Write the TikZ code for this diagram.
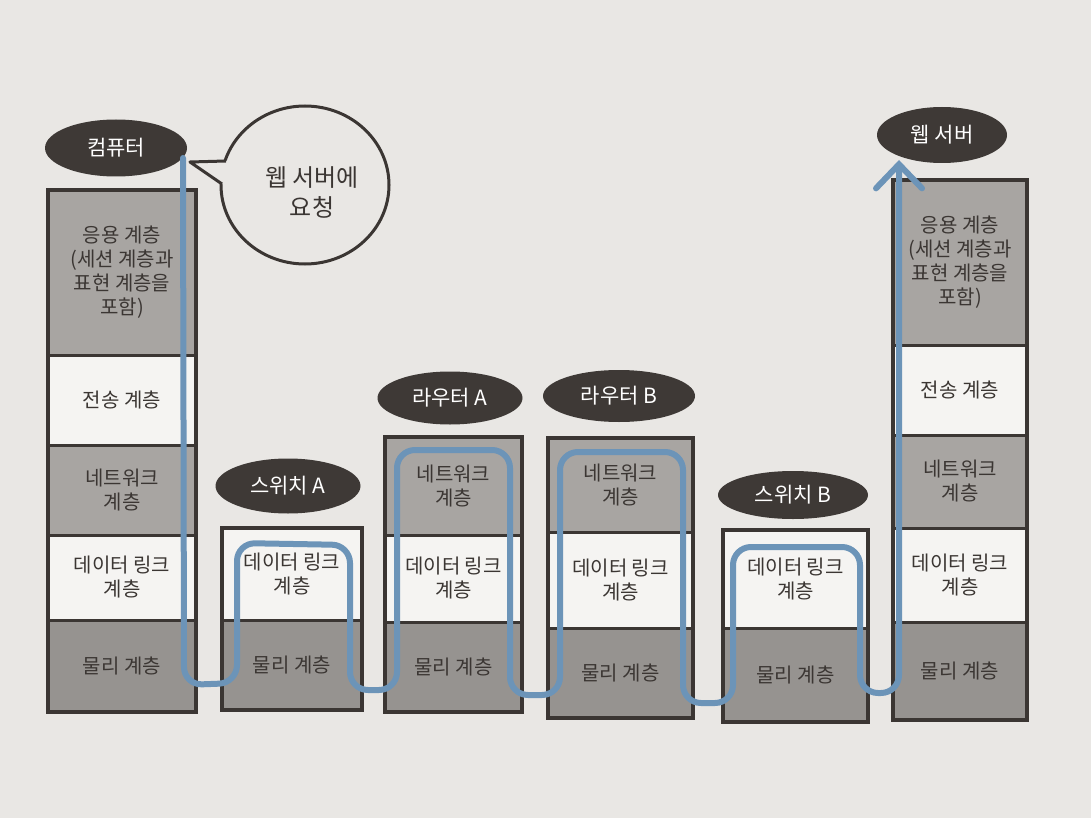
\documentclass[tikz,border=0pt]{standalone}
\usepackage{fontspec}
\setmainfont{Noto Sans CJK KR}
\usetikzlibrary{shapes.geometric, arrows.meta}
\definecolor{PaperBg}{RGB}{233,231,228}
\definecolor{InkDark}{RGB}{59,54,51}
\definecolor{LayerGray}{RGB}{168,165,162}
\definecolor{PhysGray}{RGB}{150,147,144}
\definecolor{LayerWhite}{RGB}{245,244,242}
\definecolor{PathBlue}{RGB}{108,148,184}
\definecolor{TagFill}{RGB}{62,57,54}

\tikzset{
  layer/.style={draw=InkDark, line width=3pt, text=InkDark, align=center,
    inner sep=0pt, outer sep=0pt, font=\fontsize{20}{24}\selectfont},
  gray layer/.style={layer, fill=LayerGray},
  phys layer/.style={layer, fill=PhysGray},
  white layer/.style={layer, fill=LayerWhite},
  tag/.style={ellipse, fill=TagFill, text=white, inner sep=0pt,
    font=\fontsize{21}{24}\selectfont},
  stack/.style={draw=InkDark, line width=4.5pt},
}

\begin{document}
\begin{tikzpicture}[x=1pt, y=-1pt]
\fill[PaperBg] (0,0) rectangle (1091,818);

% computer stack
\node[gray layer, minimum width=148pt, minimum height=165pt] (pcApp) at (122,272.5)
  {응용 계층\\(세션 계층과\\표현 계층을\\포함)};
\node[white layer, minimum width=148pt, minimum height=90pt] (pcTrans) at (122,400) {전송 계층};
\node[gray layer, minimum width=148pt, minimum height=90pt] (pcNet) at (122,490) {네트워크\\계층};
\node[white layer, minimum width=148pt, minimum height=85pt] (pcLink) at (122,577.5) {데이터 링크\\계층};
\node[phys layer, minimum width=148pt, minimum height=92pt] (pcPhys) at (122,666) {물리 계층};
\draw[stack] (pcApp.north west) rectangle (pcPhys.south east);

% switch A
\node[white layer, minimum width=140pt, minimum height=92pt] (swaLink) at (292,574) {데이터 링크\\계층};
\node[phys layer, minimum width=140pt, minimum height=90pt] (swaPhys) at (292,665) {물리 계층};
\draw[stack] (swaLink.north west) rectangle (swaPhys.south east);

% router A
\node[gray layer, minimum width=137pt, minimum height=98pt] (raNet) at (453.5,486) {네트워크\\계층};
\node[white layer, minimum width=137pt, minimum height=87pt] (raLink) at (453.5,578.5) {데이터 링크\\계층};
\node[phys layer, minimum width=137pt, minimum height=90pt] (raPhys) at (453.5,667) {물리 계층};
\draw[stack] (raNet.north west) rectangle (raPhys.south east);

% router B
\node[gray layer, minimum width=145pt, minimum height=94pt] (rbNet) at (620.5,485) {네트워크\\계층};
\node[white layer, minimum width=145pt, minimum height=96pt] (rbLink) at (620.5,580) {데이터 링크\\계층};
\node[phys layer, minimum width=145pt, minimum height=90pt] (rbPhys) at (620.5,673) {물리 계층};
\draw[stack] (rbNet.north west) rectangle (rbPhys.south east);

% switch B
\node[white layer, minimum width=145pt, minimum height=98pt] (swbLink) at (795.5,579) {데이터 링크\\계층};
\node[phys layer, minimum width=145pt, minimum height=94pt] (swbPhys) at (795.5,675) {물리 계층};
\draw[stack] (swbLink.north west) rectangle (swbPhys.south east);

% web server stack
\node[gray layer, minimum width=134pt, minimum height=165pt] (svApp) at (960,262.5)
  {응용 계층\\(세션 계층과\\표현 계층을\\포함)};
\node[white layer, minimum width=134pt, minimum height=90pt] (svTrans) at (960,390) {전송 계층};
\node[gray layer, minimum width=134pt, minimum height=93pt] (svNet) at (960,481.5) {네트워크\\계층};
\node[white layer, minimum width=134pt, minimum height=94pt] (svLink) at (960,575) {데이터 링크\\계층};
\node[phys layer, minimum width=134pt, minimum height=98pt] (svPhys) at (960,671) {물리 계층};
\draw[stack] (svApp.north west) rectangle (svPhys.south east);

% device tags
\node[tag, minimum width=142pt, minimum height=57pt] (pcTag) at (116,148) {컴퓨터};
\node[tag, minimum width=130pt, minimum height=56pt] (svTag) at (942,135) {웹 서버};
\node[tag, minimum width=145pt, minimum height=55pt] (swaTag) at (288,486) {스위치 A};
\node[tag, minimum width=145pt, minimum height=53pt] (raTag) at (450,398) {라우터 A};
\node[tag, minimum width=152pt, minimum height=52pt] (rbTag) at (619,396) {라우터 B};
\node[tag, minimum width=150pt, minimum height=48pt] (swbTag) at (793,495) {스위치 B};

% speech bubble
\node[ellipse, draw=InkDark, line width=3pt, fill=PaperBg, minimum width=168pt,
  minimum height=158pt, text=InkDark] (bubble) at (305,185) {};
\node[align=center, text=InkDark, font=\fontsize{24}{30}\selectfont]
  (bubbleText) at (312,192) {웹 서버에\\요청};
\coordinate (tailTip) at (190,162);
\coordinate (tailTop) at (226,161);
\coordinate (tailBot) at (222,184);
\fill[PaperBg] (tailTop) -- (tailTip) -- (tailBot) -- (234,186) -- (236,160) -- cycle;
\draw[InkDark, line width=3pt, line join=round] (tailTop) -- (tailTip) -- (tailBot);

% data path
\coordinate (pathStart) at (183,158);
\coordinate (pathEnd) at (899,160);
\draw[PathBlue, line width=6pt, rounded corners=18pt, line cap=round,
  -{Straight Barb[length=24pt, width=46pt, line cap=round]}]
  (pathStart) -- (184,685) -- (237,683) -- (237,543) -- (350,545) -- (350,690)
  -- (397,690) -- (397,450) -- (510,450) -- (510,695) -- (560,695) -- (560,452)
  -- (683,452) -- (683,703) -- (733,703) -- (733,547) -- (860,547) -- (860,693)
  -- (899,693) -- (pathEnd);
\end{tikzpicture}
\end{document}
